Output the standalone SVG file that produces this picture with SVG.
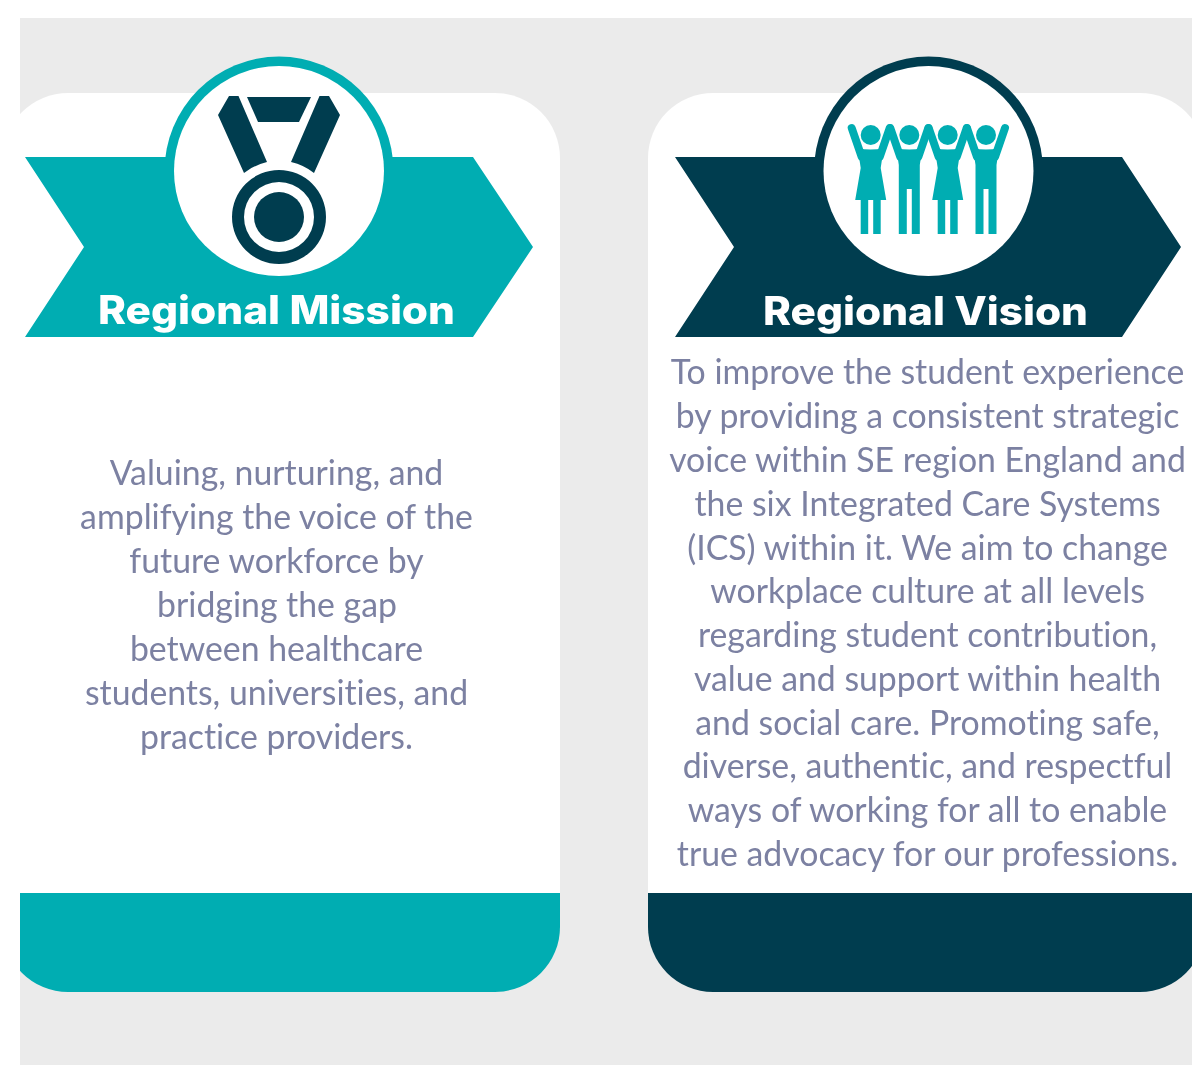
<svg xmlns="http://www.w3.org/2000/svg" width="1192" height="1065" viewBox="0 0 1192 1065">
<style>
.body{font-family:"Lato","Noto Sans","Liberation Sans",sans-serif;font-size:33.8px;fill:#7c81a2;text-anchor:middle;font-variant-ligatures:none}
.head{font-family:"Inter","Open Sans","Liberation Sans",sans-serif;font-weight:800;font-size:39px;fill:#fff;text-anchor:middle}
.teal{fill:#02adb2}.dark{fill:#023d4f}.white{fill:#fff}
.arm{stroke:#02adb2;stroke-width:8;stroke-linecap:round;fill:none}
</style>
<defs>
<clipPath id="page"><rect x="20" y="18" width="1172" height="1047"/></clipPath>
<filter id="soft" x="0" y="0" width="1" height="1" filterUnits="objectBoundingBox"><feGaussianBlur stdDeviation="0.6"/></filter>
<path id="medal-ribbon" d="M229 96H238.500L267 162Q254 165 244 173L218 115Z"/>
<g id="arms"><circle cx="0" cy="135" r="10" class="teal"/><path class="arm" d="M-19 128L-9 157M19 128L9 157"/></g>
<g id="woman"><use href="#arms"/><path class="teal" d="M-13 148Q0 151 13 148L10 168L15.500 200H10V234H2.500V200H-2.500V234H-10V200H-15.500L-10 168Z"/></g>
<g id="man"><use href="#arms"/><path class="teal" d="M-13 148Q0 151 13 148L10.500 165V234H2.500V189H-2.500V234H-10.500V165Z"/></g>
</defs>
<rect width="1192" height="1065" fill="#fff"/>
<rect x="20" y="18" width="1172" height="1047" fill="#ebebeb"/>
<g id="connectors"/>
<g clip-path="url(#page)">
<g id="mission" filter="url(#soft)">
<path class="white" d="M3 158A65 65 0 0 1 68 93H495A65 65 0 0 1 560 158V893H3Z"/>
<path class="teal" d="M3 893H560V927A65 65 0 0 1 495 992H68A65 65 0 0 1 3 927Z"/>
<circle class="teal" cx="279" cy="171" r="114.500"/>
<path class="teal" d="M25 157H473L533 247L473 337H25L84 247Z"/>
<circle class="white" cx="279" cy="171" r="105"/>
<g class="dark">
<use href="#medal-ribbon"/>
<use href="#medal-ribbon" transform="matrix(-1 0 0 1 558 0)"/>
<path d="M247 97H311L299 122H258Z"/>
<path fill-rule="evenodd" d="M232 217a47 47 0 1 0 94 0a47 47 0 1 0 -94 0ZM244 217a35 35 0 1 0 70 0a35 35 0 1 0 -70 0Z"/>
<circle cx="279" cy="217" r="25"/>
</g>
<text class="head" x="276.500" y="324" textLength="357" lengthAdjust="spacingAndGlyphs">Regional Mission</text>
<text class="body" x="276.500" y="485">Valuing, nurturing, and</text>
<text class="body" x="276.500" y="529">amplifying the voice of the</text>
<text class="body" x="276.500" y="573">future workforce by</text>
<text class="body" x="277" y="617">bridging the gap</text>
<text class="body" x="276.500" y="661">between healthcare</text>
<text class="body" x="276.500" y="705">students, universities, and</text>
<text class="body" x="276.500" y="749">practice providers.</text>
</g>
<g id="vision" filter="url(#soft)">
<path class="white" d="M648 158A65 65 0 0 1 713 93H1140A65 65 0 0 1 1205 158V893H648Z"/>
<path class="dark" d="M648 893H1205V927A65 65 0 0 1 1140 992H713A65 65 0 0 1 648 927Z"/>
<circle class="dark" cx="928.500" cy="171" r="114.500"/>
<path class="dark" d="M675 157H1122L1181 247L1122 337H675L734 247Z"/>
<circle class="white" cx="928.500" cy="171" r="105"/>
<use href="#woman" x="870.700"/>
<use href="#man" x="909.300"/>
<use href="#woman" x="947.700"/>
<use href="#man" x="986"/>
<text class="head" x="925.500" y="325" textLength="325" lengthAdjust="spacingAndGlyphs">Regional Vision</text>
<text class="body" x="927.500" y="384">To improve the student experience</text>
<text class="body" x="927.500" y="428">by providing a consistent strategic</text>
<text class="body" x="927.500" y="472">voice within SE region England and</text>
<text class="body" x="927.500" y="516">the six Integrated Care Systems</text>
<text class="body" x="927.500" y="560">(ICS) within it. We aim to change</text>
<text class="body" x="927.500" y="603">workplace culture at all levels</text>
<text class="body" x="927.500" y="647">regarding student contribution,</text>
<text class="body" x="927.500" y="691">value and support within health</text>
<text class="body" x="927.500" y="735">and social care. Promoting safe,</text>
<text class="body" x="927.500" y="778">diverse, authentic, and respectful</text>
<text class="body" x="927.500" y="822">ways of working for all to enable</text>
<text class="body" x="927.500" y="866">true advocacy for our professions.</text>
</g>
</g>
</svg>
